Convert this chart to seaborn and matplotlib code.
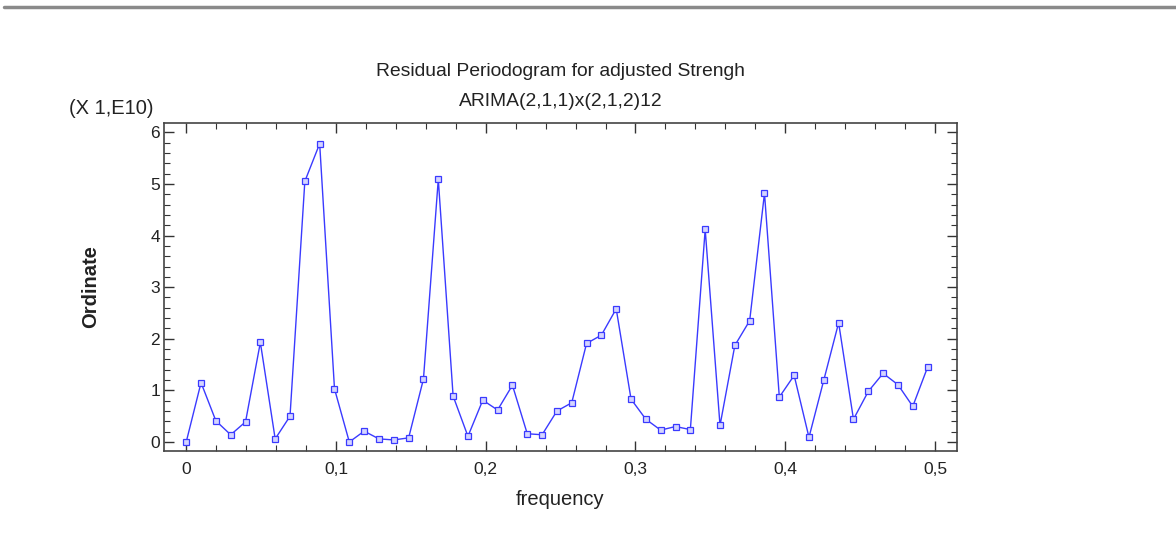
import numpy as np
import pandas as pd
import matplotlib
matplotlib.use('Agg')
import matplotlib.pyplot as plt
from matplotlib.ticker import MultipleLocator, FuncFormatter
from matplotlib.lines import Line2D
import seaborn as sns

# periodogram ordinates (units of 1E10) at frequencies k/101, k = 0..50
k = np.arange(51)
frequency = k / 101
ordinate = [0.00, 1.15, 0.41, 0.14, 0.39, 1.93, 0.06, 0.50, 5.05, 5.78,
            1.03, 0.00, 0.21, 0.06, 0.04, 0.08, 1.22, 5.09, 0.89, 0.11,
            0.81, 0.62, 1.10, 0.16, 0.14, 0.60, 0.76, 1.91, 2.07, 2.58,
            0.83, 0.44, 0.23, 0.30, 0.24, 4.12, 0.32, 1.87, 2.35, 4.82,
            0.87, 1.29, 0.09, 1.20, 2.31, 0.44, 0.98, 1.33, 1.11, 0.69,
            1.45]

title_main = "Residual Periodogram for adjusted Strengh"
title_sub = "ARIMA(2,1,1)x(2,1,2)12"
scale_note = "(X 1,E10)"

df = pd.DataFrame({'frequency': frequency, 'Ordinate': ordinate})

sns.set_style("ticks")
plt.rcParams['font.family'] = ['Liberation Sans', 'DejaVu Sans']

fig = plt.figure(figsize=(11.76, 5.6), dpi=100)
ax = fig.add_axes([0.1395, 0.1946, 0.6743, 0.5857])

line_col = '#3a3aff'
sns.lineplot(data=df, x='frequency', y='Ordinate', ax=ax, color=line_col,
             linewidth=1.0, marker='s', markersize=4.2,
             markerfacecolor='#d4d4ff', markeredgecolor=line_col,
             markeredgewidth=0.9)

ax.set_xlim(-0.0148, 0.5147)
ax.set_ylim(-0.175, 6.18)
ax.xaxis.set_major_locator(MultipleLocator(0.1))
ax.xaxis.set_minor_locator(MultipleLocator(0.02))
ax.yaxis.set_major_locator(MultipleLocator(1))
ax.yaxis.set_minor_locator(MultipleLocator(0.2))

def comma_fmt(v, pos):
    s = f"{v:.1f}".rstrip('0').rstrip('.')
    if s in ('-0', ''):
        s = '0'
    return s.replace('.', ',')

ax.xaxis.set_major_formatter(FuncFormatter(comma_fmt))
ax.yaxis.set_major_formatter(FuncFormatter(comma_fmt))

ax.tick_params(which='both', direction='in', top=True, right=True,
               colors='#333333', labelcolor='#222222', labelsize=12.5)
ax.tick_params(which='major', length=7, width=1)
ax.tick_params(which='minor', length=4, width=0.8)
ax.tick_params(axis='x', pad=8)
ax.tick_params(axis='y', pad=3)
for sp in ax.spines.values():
    sp.set_visible(True)
    sp.set_color('#444444')
    sp.set_linewidth(1.2)

ax.set_xlabel('frequency', fontsize=14.5, color='#222222', labelpad=9)
ax.set_ylabel('Ordinate', fontsize=14.5, fontweight='bold', color='#222222', labelpad=36)

fig.text(0.4766, 1 - 71 / 560, title_main, ha='center', va='center', fontsize=13.9, color='#222222')
fig.text(0.4766, 1 - 102 / 560, title_sub, ha='center', va='center', fontsize=13.9, color='#222222')
fig.text(111 / 1176, 1 - 108 / 560, scale_note, ha='center', va='center', fontsize=14.5, color='#222222')

# page border at the top
fig.add_artist(Line2D([4 / 1176, 1], [1 - 7 / 560, 1 - 7 / 560], color='#8a8a8a', linewidth=2.5))

fig.savefig('out.png', dpi=100)
